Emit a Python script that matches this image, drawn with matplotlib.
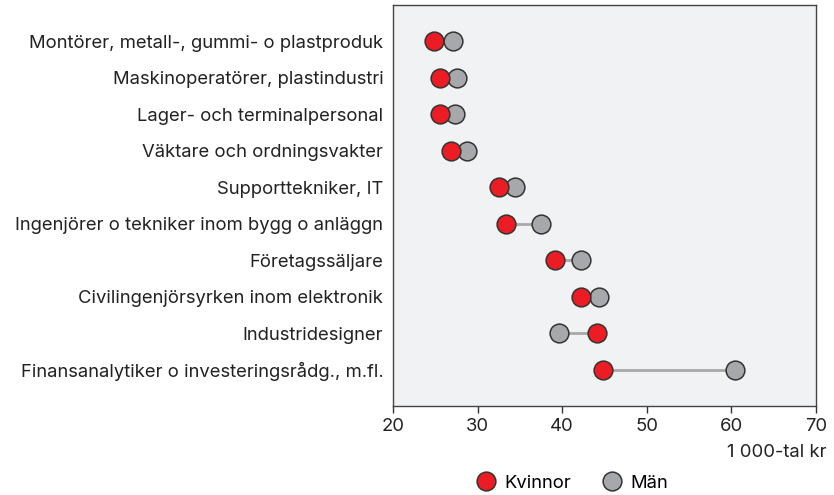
import matplotlib
matplotlib.use("Agg")
import matplotlib.pyplot as plt
from matplotlib.lines import Line2D

categories = [
    "Montörer, metall-, gummi- o plastproduk",
    "Maskinoperatörer, plastindustri",
    "Lager- och terminalpersonal",
    "Väktare och ordningsvakter",
    "Supporttekniker, IT",
    "Ingenjörer o tekniker inom bygg o anläggn",
    "Företagssäljare",
    "Civilingenjörsyrken inom elektronik",
    "Industridesigner",
    "Finansanalytiker o investeringsrådg., m.fl.",
]
kvinnor = [24.8, 25.6, 25.6, 26.9, 32.5, 33.3, 39.1, 42.2, 44.1, 44.8]
man = [27.1, 27.6, 27.3, 28.8, 34.4, 37.5, 42.2, 44.3, 39.6, 60.4]
xticks = [20, 30, 40, 50, 60, 70]

plt.rcParams['font.family'] = ['Inter', 'DejaVu Sans']
RED = "#ec1c24"
GREY = "#a7a8ab"
EDGE = "#333333"
FS = 13.3

fig = plt.figure(figsize=(8.34, 4.95), dpi=100)
ax = fig.add_axes([0.4712, 0.1798, 0.5072, 0.8101])
ax.set_facecolor("#f1f2f4")

ys = list(range(len(categories)))
for y, k, m in zip(ys, kvinnor, man):
    ax.plot([k, m], [y, y], color="#a9a9a9", lw=2, zorder=1, solid_capstyle="butt")
ax.plot(man, ys, ls="none", marker="o", ms=13.5, mfc=GREY, mec=EDGE, mew=1.1, zorder=2)
ax.plot(kvinnor, ys, ls="none", marker="o", ms=13.5, mfc=RED, mec=EDGE, mew=1.1, zorder=3)

ax.set_xlim(20, 70)
ax.set_ylim(10, -1)
ax.set_xticks(xticks)
ax.set_xticklabels([str(t) for t in xticks], fontsize=FS, color="#222222")
ax.set_yticks(ys)
ax.set_yticklabels(categories, fontsize=FS, color="#222222")
ax.tick_params(axis="y", length=0, pad=7)
ax.tick_params(axis="x", length=5, width=1, color="#333333", pad=4)
for s in ax.spines.values():
    s.set_color("#444444")
    s.set_linewidth(1)

fig.text(0.991, 0.085, "1 000-tal kr", ha="right", va="center", fontsize=FS, color="#222222")

handles = [
    Line2D([], [], ls="none", marker="o", ms=13.5, mfc=RED, mec=EDGE, mew=1.1),
    Line2D([], [], ls="none", marker="o", ms=13.5, mfc=GREY, mec=EDGE, mew=1.1),
]
fig.legend(handles, ["Kvinnor", "Män"], loc="center", bbox_to_anchor=(0.685, 0.024),
           ncol=2, frameon=False, fontsize=FS, handletextpad=0.4, columnspacing=1.6,
           handlelength=1.2)

fig.savefig("out.png", dpi=100)
